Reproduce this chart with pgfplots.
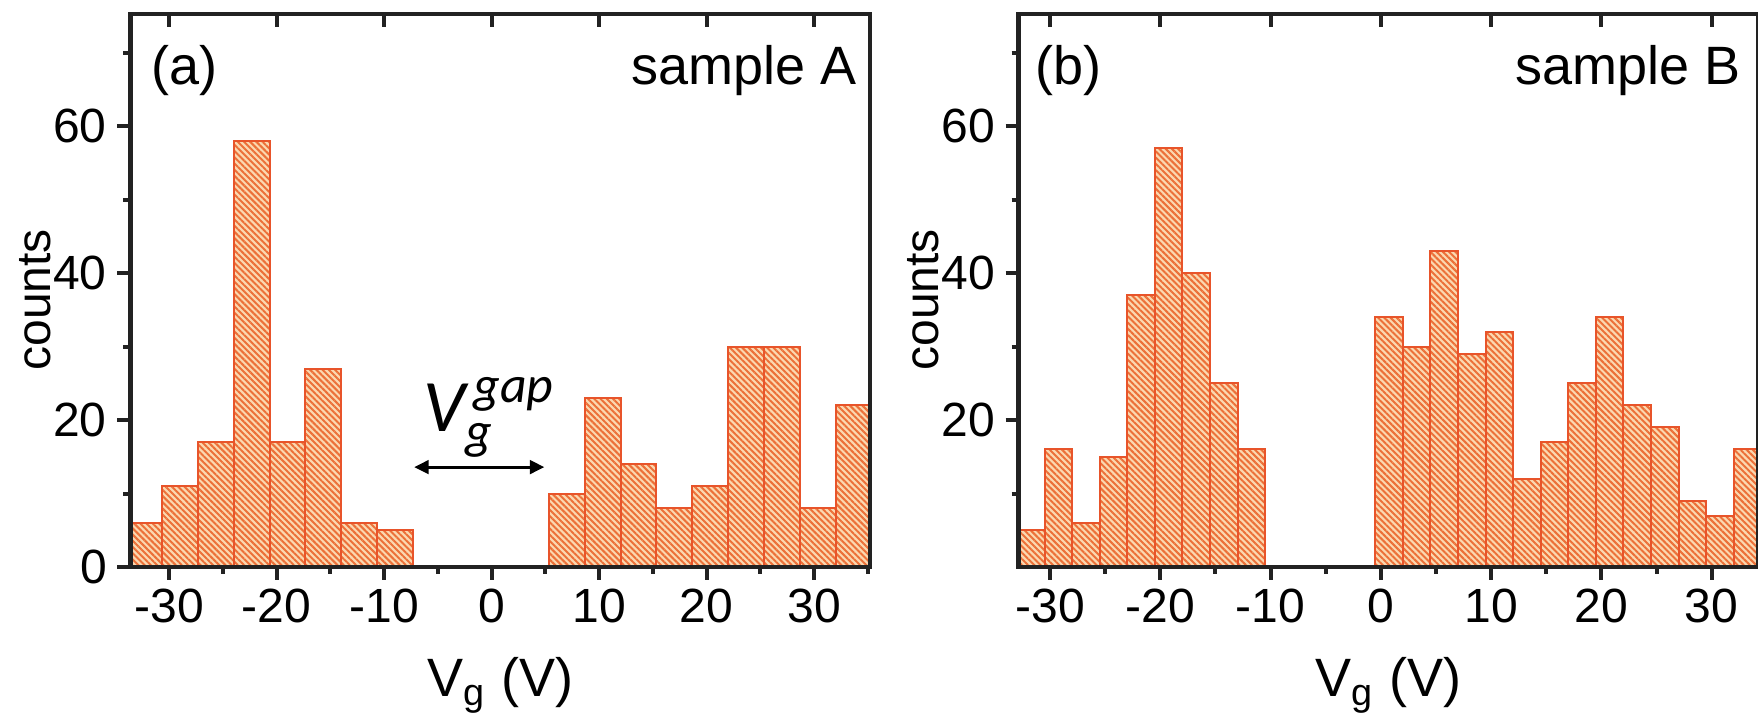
\documentclass[border=0pt]{standalone}
\usepackage{pgfplots}
\pgfplotsset{compat=1.18}
\usepackage{fontspec}
\usepackage{amsmath}
\setmainfont{Liberation Sans}
\newfontfamily\calib{Carlito}
\usetikzlibrary{patterns.meta,arrows.meta}

\definecolor{baredge}{HTML}{E8542A}
\definecolor{barfill}{HTML}{FBD8B0}
\definecolor{hatch}{HTML}{EC7038}
\definecolor{spine}{HTML}{222222}

\pgfplotsset{
  panel/.style={
    scale only axis, width=184.875pt, height=138.25pt,
    ymin=0, ymax=75.3,
    axis on top,
    /pgf/number format/assume math mode=true,
    axis line style={spine, line width=1.2pt},
    tick align=outside, xtick pos=bottom, ytick pos=left,
    major tick length=3.25pt, minor tick length=1.75pt,
    every tick/.style={spine, line width=1pt},
    xtick={-30,-20,...,30}, minor xtick={-25,-15,...,35},
    minor ytick={10,30,50,70},
    tick label style={font=\fontsize{12}{12}\selectfont},
    xticklabel style={inner sep=2pt},
    yticklabel style={inner sep=2.5pt},
    xlabel={V\textsubscript{g} (V)}, ylabel={counts},
    every axis x label/.style={at={(rel axis cs:0.5,0)}, yshift=-32.5pt,
      anchor=base, font=\fontsize{13.5}{14}\selectfont},
    every axis y label/.style={at={(rel axis cs:0,0.483)}, xshift=-23.75pt,
      rotate=90, anchor=center, font=\fontsize{12}{12}\selectfont},
  },
  toptick/.style={
    scale only axis, width=184.875pt, height=138.25pt,
    ymin=0, ymax=75.3,
    axis x line*=top, axis y line=none,
    axis line style={draw=none},
    tick align=inside, major tick length=3.25pt,
    every tick/.style={spine, line width=1pt},
    xtick={-30,-20,...,30}, xticklabels={}, minor xtick={},
  },
  hist/.style={ybar interval, draw=baredge, line width=0.5pt,
    preaction={fill=barfill},
    pattern={Lines[angle=-45,distance=1.1pt,line width=0.5pt]},
    pattern color=hatch},
}

\begin{document}
\begin{tikzpicture}
% (a) sample A
\begin{axis}[panel, xmin=-33.6, xmax=35.2, ytick={0,20,40,60}]
  \addplot[hist] coordinates {
    (-34,6) (-30.667,11) (-27.333,17) (-24,58) (-20.667,17)
    (-17.333,27) (-14,6) (-10.667,5) (-7.333,5)};
  \addplot[hist] coordinates {
    (5.333,10) (8.667,23) (12,14) (15.333,8) (18.667,11)
    (22,30) (25.333,30) (28.667,8) (32,22) (35.333,22)};
  \node[anchor=base west, inner sep=0, font=\fontsize{13.5}{14}\selectfont]
    at (rel axis cs:0.027,0.872) {(a)};
  \node[anchor=base east, inner sep=0, font=\fontsize{13.5}{14}\selectfont]
    at (rel axis cs:0.983,0.872) {sample A};
  \draw[{Triangle[length=3.6pt,width=3.4pt]}-{Triangle[length=3.6pt,width=3.4pt]},
    line width=0.7pt] (axis cs:-7.2,13.6) -- (axis cs:4.9,13.6);
  \node[anchor=base west, inner sep=0, font=\fontsize{18.5}{19}\selectfont]
    at (axis cs:-6.4,18.4) {\calib\itshape $\text{V}^{\,\text{gap}}_{\text{g}}$};
\end{axis}
\begin{axis}[toptick, xmin=-33.6, xmax=35.2]
\end{axis}

% (b) sample B
\begin{axis}[panel, at={(222pt,0)}, xmin=-32.86, xmax=34.2,
    ytick={20,40,60}]
  \addplot[hist] coordinates {
    (-33,5) (-30.5,16) (-28,6) (-25.5,15) (-23,37) (-20.5,57)
    (-18,40) (-15.5,25) (-13,16) (-10.5,16)};
  \addplot[hist] coordinates {
    (-0.5,34) (2,30) (4.5,43) (7,29) (9.5,32) (12,12) (14.5,17)
    (17,25) (19.5,34) (22,22) (24.5,19) (27,9) (29.5,7) (32,16) (34.5,16)};
  \node[anchor=base west, inner sep=0, font=\fontsize{13.5}{14}\selectfont]
    at (rel axis cs:0.022,0.872) {(b)};
  \node[anchor=base east, inner sep=0, font=\fontsize{13.5}{14}\selectfont]
    at (rel axis cs:0.977,0.872) {sample B};
\end{axis}
\begin{axis}[toptick, at={(222pt,0)}, xmin=-32.86, xmax=34.2]
\end{axis}

\pgfresetboundingbox
\path[use as bounding box] (-32.625pt,-36.5pt) rectangle (406.875pt,141.75pt);
\end{tikzpicture}
\end{document}
